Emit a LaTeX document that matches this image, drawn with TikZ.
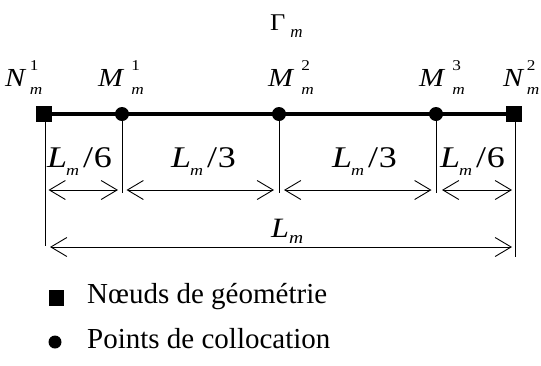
\documentclass[tikz,border=0pt]{standalone}
\usepackage{fontspec}
\setmainfont{Liberation Serif}
\usetikzlibrary{arrows.meta}
\newcommand\ptlab[4]{\scalebox{1.15}[1]{\fontsize{26}{26}\selectfont\textit{#1}\hspace{#4}\rlap{\raisebox{16pt}{\fontsize{15}{15}\selectfont #2}}\raisebox{-8pt}{\fontsize{15}{15}\selectfont\textit{#3}}}}
\newcommand\lmfrac[1]{\scalebox{1.2}[1]{\fontsize{30}{30}\selectfont\textit{L}\hspace{-1pt}\raisebox{-8pt}{\fontsize{15}{15}\selectfont\textit{m}}\hspace{3.5pt}/\hspace{0.5pt}#1}}
\begin{document}
\begin{tikzpicture}[x=1pt,y=-1pt,
  dim/.style={line width=0.9pt,{Straight Barb[length=16pt,width=19pt,line width=0.9pt]}-{Straight Barb[length=16pt,width=19pt,line width=0.9pt]}},
  lab/.style={inner sep=0pt,anchor=base west},
  sq/.style={fill=black,minimum size=16pt,inner sep=0pt},
  dot/.style={circle,fill=black,minimum size=14pt,inner sep=0pt},
  thinline/.style={line width=0.9pt}]
\useasboundingbox (0,0) rectangle (541,365);
% points
\coordinate (P0) at (44,114);
\coordinate (P1) at (122,114);
\coordinate (P2) at (279,114);
\coordinate (P3) at (436,114);
\coordinate (P4) at (514,114);
\draw[line width=3.5pt] (P0) -- (P4);
\node[sq] (N1) at (P0) {};
\node[dot] (M1) at (P1) {};
\node[dot] (M2) at (P2) {};
\node[dot] (M3) at (P3) {};
\node[sq] (N2) at (P4) {};
% vertical extension lines
\coordinate (s0) at (45,122);
\coordinate (s4) at (515,122);
\coordinate (e0) at (45,246);
\coordinate (e1) at (122,193);
\coordinate (e2) at (279,193);
\coordinate (e3) at (436,193);
\coordinate (e4) at (515,257);
\draw[thinline] (s0) -- (e0);
\draw[thinline] (M1) -- (e1);
\draw[thinline] (M2) -- (e2);
\draw[thinline] (M3) -- (e3);
\draw[thinline] (s4) -- (e4);
% dimension arrows
\coordinate (a0) at (45,190);
\coordinate (a1) at (122,190);
\coordinate (a2) at (279,190);
\coordinate (a3) at (436,190);
\coordinate (a4) at (515,190);
\draw[dim,shorten <=3.5pt,shorten >=4pt] (a0) -- (a1);
\draw[dim,shorten <=4.5pt,shorten >=5pt] (a1) -- (a2);
\draw[dim,shorten <=5pt,shorten >=4.5pt] (a2) -- (a3);
\draw[dim,shorten <=6pt,shorten >=3pt] (a3) -- (a4);
\coordinate (b0) at (45,247);
\coordinate (b4) at (515,247);
\draw[dim,shorten <=5pt,shorten >=3pt] (b0) -- (b4);
% labels
\node[lab] (G) at (270,30) {\fontsize{24}{24}\selectfont\scalebox{1.1}[1]{Γ}\hspace{5pt}\raisebox{-7pt}{\fontsize{17}{17}\selectfont\textit{m}}};
\node[lab] (lN1) at (5,86) {\ptlab{N}{1}{m}{3pt}};
\node[lab] (lM1) at (98,86) {\ptlab{M}{1}{m}{6pt}};
\node[lab] (lM2) at (268,86) {\ptlab{M}{2}{m}{6pt}};
\node[lab] (lM3) at (419,86) {\ptlab{M}{3}{m}{6pt}};
\node[lab] (lN2) at (503,86) {\ptlab{N}{2}{m}{2pt}};
\node[lab] (d1) at (47,167) {\lmfrac{6}};
\node[lab] (d2) at (171,167) {\lmfrac{3}};
\node[lab] (d3) at (332,167) {\lmfrac{3}};
\node[lab] (d4) at (440,167) {\lmfrac{6}};
\node[lab] (dL) at (271,237) {\scalebox{1.15}[1]{\fontsize{28}{28}\selectfont\textit{L}\raisebox{-6pt}{\fontsize{17}{17}\selectfont\textit{m}}}};
% legend
\node[fill=black,minimum width=15pt,minimum height=16pt,inner sep=0pt] (ksq) at (56,298) {};
\node[circle,fill=black,minimum size=13pt,inner sep=0pt] (kdot) at (55,342) {};
\node[lab,font=\fontsize{29}{29}\selectfont] (t1) at (87,303) {Nœuds de géométrie};
\node[lab,font=\fontsize{29}{29}\selectfont] (t2) at (87,348) {Points de collocation};
\end{tikzpicture}
\end{document}
